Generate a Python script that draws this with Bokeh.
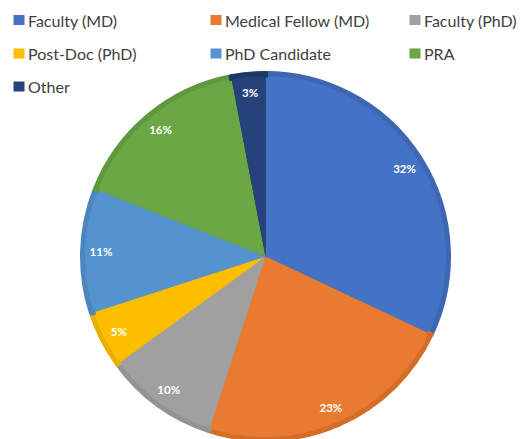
import math
from bokeh.plotting import figure
from bokeh.models import Range1d, ColumnDataSource
from bokeh.core.properties import value
from bokeh.embed import file_html
from bokeh.resources import INLINE

categories = ["Faculty (MD)", "Medical Fellow (MD)", "Faculty (PhD)", "Post-Doc (PhD)",
              "PhD Candidate", "PRA", "Other"]
percents = [32, 23, 10, 5, 11, 16, 3]
colors = ["#4472C4", "#E97B30", "#A0A0A0", "#FDBE00", "#5593CF", "#6BA845", "#25427A"]
edge_colors = ["#3D66B3", "#D36D28", "#939393", "#E8AE00", "#4C86BD", "#5F983D", "#1F3866"]

W, H = 526, 439
p = figure(width=W, height=H, output_backend="svg", toolbar_location=None,
           x_range=Range1d(0, W), y_range=Range1d(0, H), min_border=0)
p.axis.visible = False
p.grid.visible = False
p.outline_line_color = None
p.background_fill_color = "white"
p.border_fill_color = "white"

cx, cy, R = 265, H - 256, 185
total = sum(percents)
starts, ends, mids = [], [], []
cum = 0
for v in percents:
    a0 = math.pi / 2 - 2 * math.pi * cum / total
    cum += v
    a1 = math.pi / 2 - 2 * math.pi * cum / total
    starts.append(a0)
    ends.append(a1)
    mids.append((a0 + a1) / 2)

src = ColumnDataSource(dict(start=starts, end=ends, fill=colors, edge=edge_colors))
p.wedge(x=cx, y=cy, radius=R - 2, start_angle="start", end_angle="end", direction="clock",
        fill_color="fill", line_color="edge", line_width=5, line_join="round", source=src)
p.wedge(x=cx, y=cy, radius=R - 6, start_angle="start", end_angle="end", direction="clock",
        fill_color="fill", line_color=None, source=src)

lr = 0.89 * R
lab = ColumnDataSource(dict(x=[cx + lr * math.cos(m) for m in mids],
                            y=[cy + lr * math.sin(m) for m in mids],
                            t=[f"{v}%" for v in percents]))
p.text(x="x", y="y", text="t", source=lab, text_color="white", text_font=value("Lato"),
       text_font_style="bold", text_font_size="11.5px", text_align="center",
       text_baseline="middle")

# legend
col_x = [18.5, 215.5, 414.5]
row_y = [H - 19.5, H - 53, H - 86]
lx, ly = [], []
for i, c in enumerate(categories):
    lx.append(col_x[i % 3])
    ly.append(row_y[i // 3])
leg = ColumnDataSource(dict(x=lx, y=ly, xt=[x + 9 for x in lx], t=categories, c=colors))
p.rect(x="x", y="y", width=11, height=10, fill_color="c", line_color=None, source=leg,
       width_units="screen", height_units="screen")
p.text(x="xt", y="y", text="t", source=leg, text_color="#404040", text_font=value("Lato"),
       text_font_size="16px", text_baseline="middle")

open("out.html", "w").write(file_html(p, INLINE))
